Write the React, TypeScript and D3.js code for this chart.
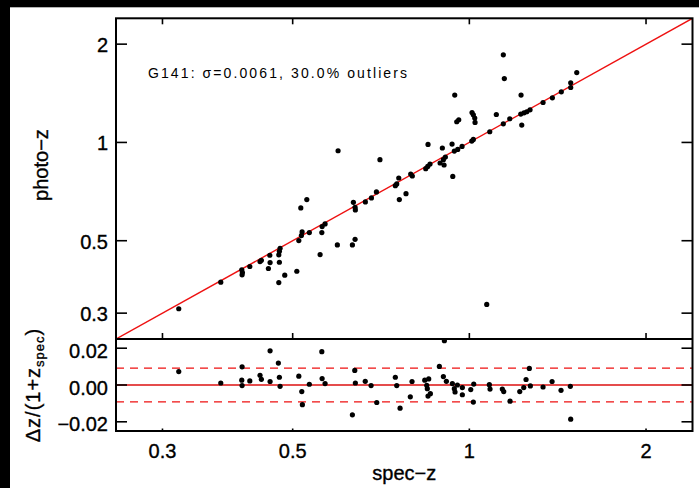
import React from "react";
import * as d3 from "d3";

// ---- data ----
const upperSpecZ = [
  0.3198, 0.3771, 0.4095, 0.4105, 0.41, 0.4226, 0.4399, 0.4422, 0.4546, 0.4576,
  0.4571, 0.4735, 0.4746, 0.4735, 0.4746, 0.4759, 0.4847, 0.5082, 0.5122, 0.5162,
  0.5174, 0.5188, 0.5285, 0.5338, 0.5568, 0.5606, 0.5612, 0.5678, 0.5958, 0.632,
  0.6387, 0.6345, 0.6387, 0.6394, 0.665, 0.681, 0.6945, 0.748, 0.7521, 0.7581,
  0.7598, 1.1426, 1.1471, 1.524, 1.4883, 1.4883, 1.4345, 1.385, 1.3353, 1.2249,
  1.2688, 1.2525, 1.2393, 1.2235, 1.2283, 1.1718, 1.1426, 1.1117, 1.0834, 1.0158,
  1.0095, 1.0106, 1.0158, 1.0214, 1.0226, 0.9443, 0.9592, 0.9517, 0.9718, 0.9554,
  0.9428, 0.9344, 0.937, 0.8995, 0.9102, 0.9031, 0.8915, 0.9056, 0.8503, 0.857,
  0.8494, 0.8427, 0.7945, 0.7995, 0.78, 0.7042, 0.5975, 1.0706,
];
const upperPhotoZ = [
  0.3094, 0.3732, 0.4072, 0.3995, 0.3931, 0.4168, 0.4317, 0.4356, 0.411, 0.4286,
  0.4513, 0.3723, 0.4295, 0.4526, 0.4641, 0.474, 0.392, 0.4031, 0.5005, 0.6301,
  0.5185, 0.5321, 0.6681, 0.5296, 0.4536, 0.5296, 0.5524, 0.563, 0.4855, 0.4855,
  0.5051, 0.6554, 0.6327, 0.6214, 0.6572, 0.6761, 0.7052, 0.7372, 0.7461, 0.7782,
  0.6681, 1.8544, 1.5692, 1.6372, 1.5226, 1.473, 1.4289, 1.3699, 1.3252, 1.3964,
  1.2589, 1.2414, 1.2325, 1.2215, 1.1303, 1.1817, 1.1406, 1.2178, 1.0782, 1.0214,
  1.0099, 1.2351, 1.2152, 1.1875, 1.1512, 1.3964, 1.1733, 1.157, 0.9723, 0.9519,
  0.9412, 0.9888, 0.7869, 0.9614, 0.9024, 0.8854, 0.865, 0.8528, 0.9861, 0.8587,
  0.8445, 0.831, 0.8004, 0.7891, 0.6968, 0.8854, 0.9432, 0.319,
];

const lowerSpecZ = [
  0.3198, 0.3771, 0.41, 0.4095, 0.41, 0.4226, 0.4399, 0.4422, 0.4576, 0.4576,
  0.4727, 0.4746, 0.4759, 0.5122, 0.5182, 0.5194, 0.5338, 0.5606, 0.5612, 0.5678,
  0.632, 0.6379, 0.6394, 0.6647, 0.6801, 0.6954, 0.748, 0.7521, 0.762, 0.7932,
  0.7986, 0.8395, 0.8526, 0.8461, 0.848, 0.8503, 0.8582, 0.889, 0.9031, 0.9138,
  0.9067, 0.9355, 0.9428, 0.9454, 0.9541, 0.9729, 0.9729, 1.0055, 1.0174, 1.0158,
  1.0816, 1.0845, 1.1381, 1.1444, 1.1731, 1.2187, 1.2379, 1.2491, 1.2654, 1.2704,
  1.3353, 1.3834, 1.4329, 1.4862, 1.4883,
];
const lowerDz = [
  0.0073, 0.0011, 0.0099, 0.0026, -0.0003, 0.0022, 0.0053, 0.0031, 0.0186, 0.0019,
  0.0119, 0.0042, -0.0007, 0.0048, -0.0036, -0.0107, 0.0004, 0.0181, 0.0035, 0.0008,
  -0.0162, 0.0079, 0.0011, 0.002, -0.0003, -0.0095, 0.0042, -0.0003, -0.0126, -0.0064,
  0.0019, 0.0026, 0.0033, -0.0002, -0.002, -0.006, -0.0047, 0.0101, 0.0046, 0.002,
  0.0241, 0.0008, -0.002, -0.0038, 0.0, -0.0014, -0.0053, -0.0025, 0.0005, -0.0093,
  0.0002, -0.0022, -0.0022, -0.0036, -0.0088, -0.0036, -0.0014, 0.003, 0.009, -0.0005,
  -0.0011, 0.0019, -0.0029, -0.0007, -0.0186,
];

const xTicks = [0.3, 0.5, 1, 2];
const xTickLabels = ["0.3", "0.5", "1", "2"];
const yTopTicks = [0.3, 0.5, 1, 2];
const yTopTickLabels = ["0.3", "0.5", "1", "2"];
const yBotTicks = [0.02, 0, -0.02];
const yBotTickLabels = ["0.02", "0.00", "\u22120.02"];

const sigma = 0.0061;
const outlierPct = 30.0;
const grism = "G141";

// ---- layout ----
const W = 699;
const H = 488;
const left = 116;
const right = 692.5;
const top = 18.3;
const mid = 339;
const bottom = 431;
const FONT = "'Liberation Sans', Arial, Helvetica, sans-serif";

export default function App() {
  const x = d3.scaleLog().domain([0.25, 2.4]).range([left, right]);
  const yT = d3.scaleLog().domain([0.25, 2.4]).range([mid, top]);
  const yB = d3.scaleLinear().domain([-0.025, 0.025]).range([bottom, mid]);

  const oneToOne = d3
    .line<number>()
    .x((d) => x(d))
    .y((d) => yT(d))([0.25, 2.4]);

  const band = 1.5 * sigma;

  return (
    <div style={{ position: "fixed", left: 0, top: 0 }}>
      <svg width={W} height={H} style={{ display: "block", background: "#fff" }}>
        <defs>
          <clipPath id="clipTop">
            <rect x={left} y={top} width={right - left} height={mid - top} />
          </clipPath>
          <clipPath id="clipBot">
            <rect x={left} y={mid} width={right - left} height={bottom - mid} />
          </clipPath>
        </defs>
        {/* black border strips */}
        <rect x={0} y={0} width={W} height={7.3} fill="#000" />
        <rect x={0} y={0} width={10} height={H} fill="#000" />

        {/* upper panel */}
        <path d={oneToOne || ""} stroke="#ee1111" strokeWidth={1.4} fill="none" clipPath="url(#clipTop)" />
        <g clipPath="url(#clipTop)">
          {upperSpecZ.map((s, i) => (
            <circle key={"u" + i} cx={x(s)} cy={yT(upperPhotoZ[i])} r={2.6} fill="#000" />
          ))}
        </g>
        <text
          x={148}
          y={78}
          fontFamily={FONT}
          fontSize={14}
          textLength={259}
          lengthAdjust="spacing"
          fill="#000"
        >
          {`${grism}: \u03c3=${sigma.toFixed(4)}, ${outlierPct.toFixed(1)}% outliers`}
        </text>

        {/* lower panel */}
        <line x1={left} x2={right} y1={yB(0)} y2={yB(0)} stroke="#dd1111" strokeWidth={1.5} />
        <line x1={left} x2={right} y1={yB(band)} y2={yB(band)} stroke="#ee1111" strokeWidth={1.4} strokeDasharray="8,6" />
        <line x1={left} x2={right} y1={yB(-band)} y2={yB(-band)} stroke="#ee1111" strokeWidth={1.4} strokeDasharray="8,6" />
        <g clipPath="url(#clipBot)">
          {lowerSpecZ.map((s, i) => (
            <circle key={"l" + i} cx={x(s)} cy={yB(lowerDz[i])} r={2.6} fill="#000" />
          ))}
        </g>

        {/* ticks */}
        <g stroke="#000" strokeWidth={1.6}>
          {xTicks.map((t) => (
            <g key={"xt" + t}>
              <line x1={x(t)} x2={x(t)} y1={top} y2={top + 6} />
              <line x1={x(t)} x2={x(t)} y1={mid} y2={mid - 6} />
              <line x1={x(t)} x2={x(t)} y1={bottom} y2={bottom - 2.5} />
            </g>
          ))}
          {yTopTicks.map((t) => (
            <g key={"yt" + t}>
              <line x1={left} x2={left + 11} y1={yT(t)} y2={yT(t)} />
              <line x1={right} x2={right - 11} y1={yT(t)} y2={yT(t)} />
            </g>
          ))}
          {yBotTicks.map((t) => (
            <g key={"yb" + t}>
              <line x1={left} x2={left + 11} y1={yB(t)} y2={yB(t)} />
              <line x1={right} x2={right - 11} y1={yB(t)} y2={yB(t)} />
            </g>
          ))}
        </g>

        {/* frames */}
        <rect x={left} y={top} width={right - left} height={bottom - top} fill="none" stroke="#000" strokeWidth={2} />
        <line x1={left} x2={right} y1={mid} y2={mid} stroke="#000" strokeWidth={2} />

        {/* tick labels */}
        <g fontFamily={FONT} fontSize={20} fill="#000" stroke="#000" strokeWidth={0.35}>
          {xTicks.map((t, i) => (
            <text key={"xl" + t} x={x(t)} y={458} textAnchor="middle">
              {xTickLabels[i]}
            </text>
          ))}
          {yTopTicks.map((t, i) => (
            <text key={"ytl" + t} x={108} y={yT(t) + 8} textAnchor="end">
              {yTopTickLabels[i]}
            </text>
          ))}
          {yBotTicks.map((t, i) => (
            <text key={"ybl" + t} x={108} y={yB(t) + 9.5} textAnchor="end">
              {yBotTickLabels[i]}
            </text>
          ))}
        </g>

        {/* axis titles */}
        <g fontFamily={FONT} fontSize={20} fill="#000" stroke="#000" strokeWidth={0.35}>
          <text x={(left + right) / 2} y={480} textAnchor="middle">
            spec{"\u2212"}z
          </text>
          <text transform="translate(48,165) rotate(-90)" textAnchor="middle">
            photo{"\u2212"}z
          </text>
          <text transform="translate(40,385) rotate(-90)" textAnchor="middle" letterSpacing={1}>
            {"\u0394z/(1+z"}
            <tspan fontSize={13} dy={4}>
              spec
            </tspan>
            <tspan dy={-4}>)</tspan>
          </text>
        </g>
      </svg>
    </div>
  );
}
